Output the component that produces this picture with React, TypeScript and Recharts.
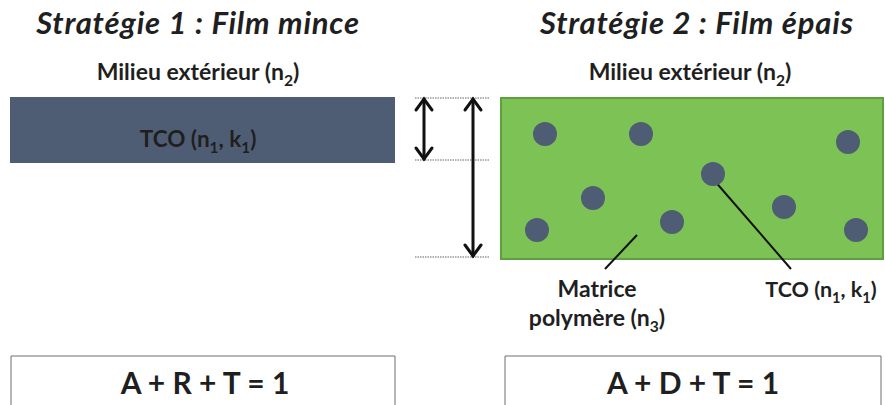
import React from "react";
import {
	ComposedChart,
	ReferenceArea,
	ReferenceLine,
	Scatter,
	XAxis,
	YAxis,
} from "recharts";

const W = 885;
const H = 405;
const FONT = "Lato, 'DejaVu Sans', sans-serif";
const INK = "#1f1f1f";
const TCO = "#4f5d74";

// TCO particle centres in the thick film (picture frame, px)
const particleX = [545, 641, 848, 713, 593, 537, 672, 784, 856];
const particleY = [134, 134, 142, 174, 198, 230, 222, 207, 230];

// text blocks ("_n" => subscript n)
const labelText = [
	"Stratégie 1 : Film mince",
	"Stratégie 2 : Film épais",
	"Milieu extérieur (n_2)",
	"Milieu extérieur (n_2)",
	"TCO (n_1, k_1)",
	"Matrice",
	"polymère (n_3)",
	"TCO (n_1, k_1)",
	"A + R + T = 1",
	"A + D + T = 1",
];
const labelX = [198, 697, 198, 690, 198, 597, 597, 821, 205, 693];
const labelY = [34, 34, 80, 80, 147, 297, 326, 297, 394, 394];
const labelSize = [31, 31, 23, 23, 22.5, 23, 23, 21.5, 30, 30];
const labelItalic = [true, true, false, false, false, false, false, false, false, false];

const labels = labelText.map((t, i) => ({
	x: labelX[i],
	y: labelY[i],
	t,
	size: labelSize[i],
	italic: labelItalic[i],
}));
const particles = particleX.map((x, i) => ({ x, y: particleY[i] }));

const renderParts = (t: string, size: number) => {
	const bits = t.split(/_(\d)/);
	const out: React.ReactNode[] = [];
	bits.forEach((b, i) => {
		if (i % 2 === 1) {
			out.push(
				<tspan key={i} dy={size * 0.28} fontSize={size * 0.68}>
					{b}
				</tspan>,
			);
		} else if (b) {
			out.push(
				<tspan key={i} dy={i > 0 ? -size * 0.28 : 0}>
					{b}
				</tspan>,
			);
		}
	});
	return out;
};

const LabelShape = (p: any) => {
	const d = p.payload;
	return (
		<text
			x={p.cx}
			y={p.cy}
			textAnchor="middle"
			fontFamily={FONT}
			fontWeight="bold"
			fontStyle={d.italic ? "italic" : "normal"}
			fontSize={d.size}
			letterSpacing={d.italic ? 0.8 : 0}
			fill={INK}
		>
			{renderParts(d.t, d.size)}
		</text>
	);
};

const ParticleShape = (p: any) => (
	<circle cx={p.cx} cy={p.cy} r={12} fill={TCO} />
);

const DoubleArrow = (p: any) => {
	const { x1, y1, x2, y2 } = p;
	const h = 12;
	const w = 8;
	return (
		<g stroke="#111" strokeWidth={3} fill="none" strokeLinecap="round">
			<line x1={x1} y1={y1 + 1} x2={x2} y2={y2 - 1} />
			<polyline points={`${x1 - w},${y1 + h} ${x1},${y1 + 1} ${x1 + w},${y1 + h}`} />
			<polyline points={`${x2 - w},${y2 - h} ${x2},${y2 - 1} ${x2 + w},${y2 - h}`} />
		</g>
	);
};

export default function App() {
	return (
		<div
			style={{
				position: "absolute",
				left: 0,
				top: 0,
				background: "#fff",
				width: W,
				height: H,
			}}
		>
			<ComposedChart
				width={W}
				height={H}
				margin={{ top: 0, right: 0, bottom: 0, left: 0 }}
			>
				<XAxis type="number" dataKey="x" domain={[0, W]} hide />
				<YAxis type="number" dataKey="y" domain={[0, H]} reversed hide />
				{/* thin film */}
				<ReferenceArea x1={10} x2={395} y1={97} y2={163} fill={TCO} fillOpacity={1} stroke="none" ifOverflow="visible" />
				{/* thick film */}
				<ReferenceArea x1={501} x2={883} y1={98} y2={259} fill="#7cc255" fillOpacity={1} stroke="#5f9f3f" strokeWidth={2} ifOverflow="visible" />
				{/* equation boxes */}
				<ReferenceArea x1={11} x2={395} y1={356} y2={412} fill="#fff" fillOpacity={1} stroke="#6e6e6e" strokeWidth={1} ifOverflow="visible" />
				<ReferenceArea x1={505} x2={881} y1={356} y2={412} fill="#fff" fillOpacity={1} stroke="#6e6e6e" strokeWidth={1} ifOverflow="visible" />
				{/* thickness guides */}
				{[98, 160, 257].map((y) => (
					<ReferenceLine
						key={y}
						segment={[{ x: 415, y }, { x: 489, y }]}
						stroke="#666"
						strokeWidth={1}
						strokeDasharray="1.5 1"
						ifOverflow="visible"
					/>
				))}
				<ReferenceLine segment={[{ x: 424, y: 98 }, { x: 424, y: 160 }]} shape={DoubleArrow} ifOverflow="visible" />
				<ReferenceLine segment={[{ x: 473, y: 98 }, { x: 473, y: 257 }]} shape={DoubleArrow} ifOverflow="visible" />
				{/* leader lines */}
				<ReferenceLine segment={[{ x: 713, y: 179 }, { x: 791, y: 269 }]} stroke="#111" strokeWidth={2} ifOverflow="visible" />
				<ReferenceLine segment={[{ x: 637, y: 235 }, { x: 605, y: 269 }]} stroke="#111" strokeWidth={2} ifOverflow="visible" />
				<Scatter data={particles} shape={ParticleShape} isAnimationActive={false} />
				<Scatter data={labels} shape={LabelShape} isAnimationActive={false} />
			</ComposedChart>
		</div>
	);
}
